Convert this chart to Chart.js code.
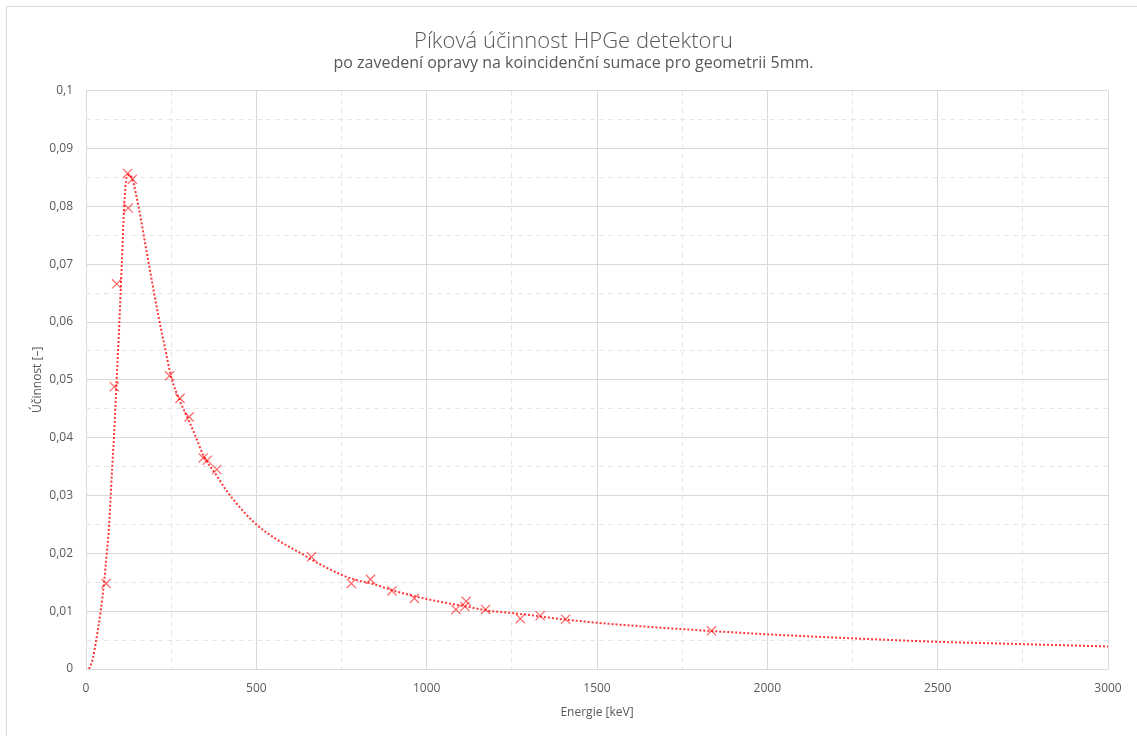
<!DOCTYPE html>
<html>
<head>
<meta charset="utf-8">
<script src="https://cdn.jsdelivr.net/npm/chart.js@4/dist/chart.umd.min.js"></script>
<style>
  html, body { margin: 0; padding: 0; background: #ffffff; overflow: hidden; }
  #wrap { position: relative; width: 1137px; height: 736px; }
  #frame { position: absolute; left: 6px; top: 6px; width: 1200px; height: 800px; border: 1px solid #d9d9d9; box-sizing: border-box; }
  #c { position: absolute; left: 0; top: 0; }
</style>
</head>
<body>
<div id="wrap">
  <div id="frame"></div>
  <canvas id="c" width="1137" height="736"></canvas>
</div>
<script>
// Measured points (energy in keV, peak efficiency)
const measuredEnergy = [59, 83, 90, 122, 124, 136, 245, 276, 303, 344, 356, 384, 662, 779, 835, 898, 964, 1086, 1112, 1116, 1173, 1275, 1333, 1408, 1836];
const measuredEff    = [0.0148, 0.0488, 0.0666, 0.0857, 0.0797, 0.0847, 0.0507, 0.0468, 0.0436, 0.0365, 0.0361, 0.0345, 0.0194, 0.0148, 0.0155, 0.0135, 0.0122, 0.0103, 0.0108, 0.0117, 0.0103, 0.0087, 0.0092, 0.0086, 0.0066];

// Fitted efficiency curve
const fitEnergy = [9, 20, 30, 43, 53, 61, 68, 72.5, 77, 82, 86, 90, 98, 105, 112, 119, 127, 137, 154, 180, 212, 232, 250, 276, 303, 322, 344, 385, 413, 460, 500, 560, 628, 700, 780, 843, 900, 1000, 1117, 1180, 1264, 1400, 1500, 1650, 1800, 2000, 2250, 2500, 2750, 3000];
const fitEff    = [0, 0.0018, 0.0050, 0.0100, 0.0150, 0.0200, 0.0250, 0.0300, 0.0350, 0.0400, 0.0450, 0.0500, 0.0600, 0.0700, 0.0800, 0.0849, 0.0855, 0.0845, 0.0800, 0.0715, 0.0612, 0.0555, 0.0505, 0.0463, 0.0428, 0.0402, 0.0370, 0.0333, 0.0308, 0.0274, 0.0250, 0.0224, 0.0201, 0.0177, 0.0156, 0.0147, 0.0136, 0.0121, 0.0108, 0.0101, 0.0096, 0.0086, 0.0080, 0.0073, 0.0067, 0.0060, 0.0053, 0.0047, 0.0043, 0.0039];

// Tick labels
const xTickValues = [0, 500, 1000, 1500, 2000, 2500, 3000];
const xTickLabels = ['0', '500', '1000', '1500', '2000', '2500', '3000'];
const yTickValues = [0, 0.01, 0.02, 0.03, 0.04, 0.05, 0.06, 0.07, 0.08, 0.09, 0.1];
const yTickLabels = ['0', '0,01', '0,02', '0,03', '0,04', '0,05', '0,06', '0,07', '0,08', '0,09', '0,1'];

const titleText = 'Píková účinnost HPGe detektoru';
const subtitleText = 'po zavedení opravy na koincidenční sumace pro geometrii 5mm.';
const xTitle = 'Energie [keV]';
const yTitle = 'Účinnost [–]';

const FONT = "'Open Sans', 'DejaVu Sans', sans-serif";
const TXT = '#595959';

function labelFor(values, labels, v) {
  for (let i = 0; i < values.length; i++) {
    if (Math.abs(values[i] - v) < 1e-9) return labels[i];
  }
  return '';
}

const measured = measuredEnergy.map((e, i) => ({ x: e, y: measuredEff[i] }));
const fit = fitEnergy.map((e, i) => ({ x: e, y: fitEff[i] }));

new Chart(document.getElementById('c'), {
  type: 'scatter',
  data: {
    datasets: [
      {
        label: 'fit',
        data: fit,
        showLine: true,
        borderColor: 'rgba(255,20,20,0.85)',
        borderWidth: 2,
        borderDash: [2, 2],
        pointRadius: 0,
        cubicInterpolationMode: 'monotone',
        fill: false,
        order: 2
      },
      {
        label: 'measured',
        data: measured,
        showLine: false,
        pointStyle: 'crossRot',
        pointRadius: 6.5,
        pointBorderWidth: 1.2,
        borderColor: 'rgba(255,0,0,0.6)',
        backgroundColor: 'rgba(255,0,0,0.6)',
        order: 1
      }
    ]
  },
  options: {
    responsive: false,
    animation: false,
    devicePixelRatio: 1,
    layout: { padding: { left: 39, right: 29, top: 0, bottom: 0 } },
    plugins: {
      legend: { display: false },
      tooltip: { enabled: false },
      title: {
        display: true,
        text: titleText,
        color: TXT,
        font: { family: FONT, size: 22, weight: '300', lineHeight: 1.1 },
        padding: { top: 30, bottom: 0 }
      },
      subtitle: {
        display: true,
        text: subtitleText,
        color: TXT,
        font: { family: FONT, size: 16, weight: 'normal', lineHeight: 1.0 },
        padding: { top: 1, bottom: 19.5 }
      }
    },
    scales: {
      x: {
        type: 'linear',
        position: 'bottom',
        min: 0, max: 3000,
        afterBuildTicks: (scale) => { scale.ticks = xTickValues.map(v => ({ value: v })); },
        afterFit: (scale) => { scale.height = 67; },
        ticks: {
          color: TXT,
          font: { family: FONT, size: 12 },
          padding: 12,
          maxRotation: 0,
          callback: (v) => labelFor(xTickValues, xTickLabels, v)
        },
        grid: { color: '#d9d9d9', lineWidth: 1, drawTicks: false },
        border: { display: false },
        title: {
          display: true,
          text: xTitle,
          color: TXT,
          font: { family: FONT, size: 12 },
          padding: { top: 0, bottom: 16 }
        }
      },
      y: {
        type: 'linear',
        position: 'left',
        min: 0, max: 0.1,
        afterBuildTicks: (scale) => { scale.ticks = yTickValues.map(v => ({ value: v })); },
        afterFit: (scale) => { scale.width = 47; },
        ticks: {
          color: TXT,
          font: { family: FONT, size: 12 },
          padding: 13,
          callback: (v) => labelFor(yTickValues, yTickLabels, v)
        },
        grid: { color: '#d9d9d9', lineWidth: 1, drawTicks: false },
        border: { display: true, color: '#d9d9d9' },
        title: {
          display: true,
          text: yTitle,
          color: TXT,
          font: { family: FONT, size: 12 },
          padding: { top: -9, bottom: 0 }
        }
      },
      xMinor: {
        type: 'linear',
        position: 'bottom',
        min: 0, max: 3000,
        afterBuildTicks: (scale) => {
          const t = [];
          for (let i = 0; i < xTickValues.length - 1; i++) t.push({ value: (xTickValues[i] + xTickValues[i + 1]) / 2 });
          scale.ticks = t;
        },
        afterFit: (scale) => { scale.height = 0; },
        ticks: { display: false },
        grid: { color: '#e6e6e6', lineWidth: 1, drawTicks: false },
        border: { display: false, dash: [5, 4] }
      },
      yMinor: {
        type: 'linear',
        position: 'left',
        min: 0, max: 0.1,
        afterBuildTicks: (scale) => {
          const t = [];
          for (let i = 0; i < yTickValues.length - 1; i++) t.push({ value: (yTickValues[i] + yTickValues[i + 1]) / 2 });
          scale.ticks = t;
        },
        afterFit: (scale) => { scale.width = 0; },
        ticks: { display: false },
        grid: { color: '#e6e6e6', lineWidth: 1, drawTicks: false },
        border: { display: false, dash: [5, 4] }
      }
    }
  }
});
</script>
</body>
</html>
